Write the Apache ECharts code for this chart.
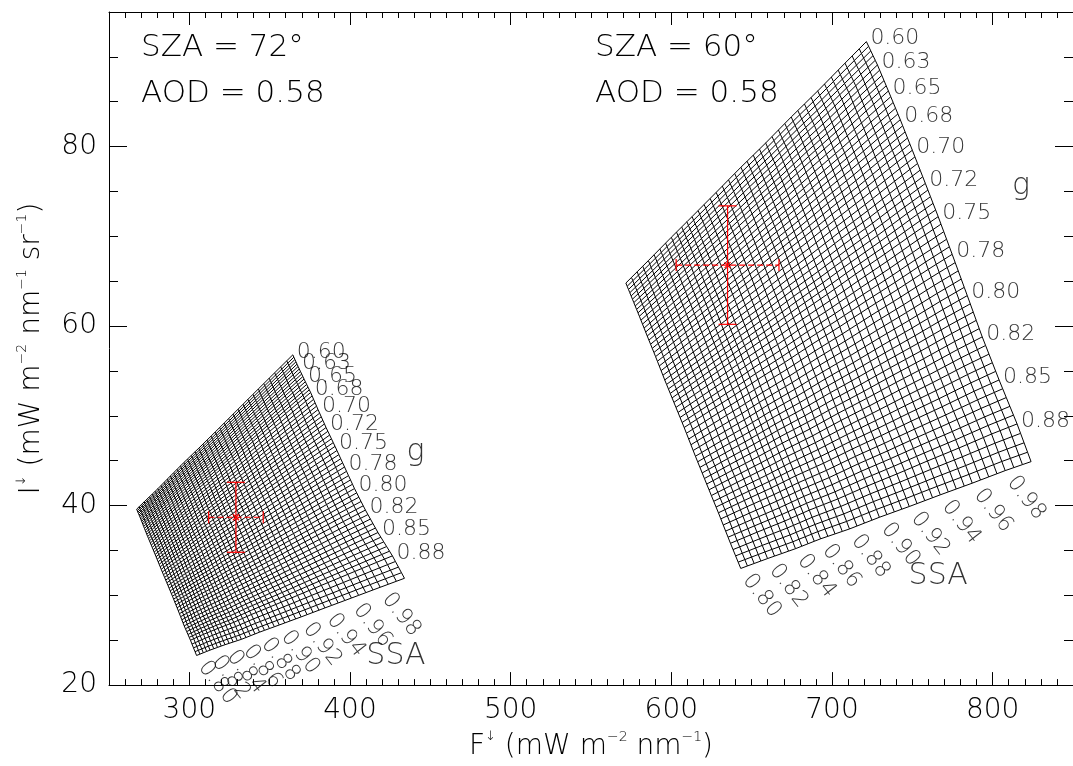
<!DOCTYPE html>
<html>
<head>
<meta charset="utf-8">
<script src="https://cdn.jsdelivr.net/npm/echarts@6/dist/echarts.min.js"></script>
<style>
  html, body { margin: 0; padding: 0; background: #fff; }
  #chart { width: 1073px; height: 766px; }
</style>
</head>
<body>
<div id="chart"></div>
<script>
// Lookup-table parameters: single-scattering albedo (SSA) and asymmetry parameter (g)
const ssaValues = [0.800,0.805,0.810,0.815,0.820,0.825,0.830,0.835,0.840,0.845,
                   0.850,0.855,0.860,0.865,0.870,0.875,0.880,0.885,0.890,0.895,
                   0.900,0.905,0.910,0.915,0.920,0.925,0.930,0.935,0.940,0.945,
                   0.950,0.955,0.960,0.965,0.970,0.975,0.980,0.985,0.990,0.995];
const gValues = [0.600,0.605,0.610,0.615,0.620,0.625,0.630,0.635,0.640,0.645,
                 0.650,0.655,0.660,0.665,0.670,0.675,0.680,0.685,0.690,0.695,
                 0.700,0.705,0.710,0.715,0.720,0.725,0.730,0.735,0.740,0.745,
                 0.750,0.755,0.760,0.765,0.770,0.775,0.780,0.785,0.790,0.795,
                 0.800,0.805,0.810,0.815,0.820,0.825,0.830,0.835,0.840,0.845,
                 0.850,0.855,0.860,0.865,0.870,0.875,0.880,0.885,0.890,0.895];

// Labelled parameter values along the table edges
const ssaLabelValues = [0.80,0.82,0.84,0.86,0.88,0.90,0.92,0.94,0.96,0.98];
const ssaLabels = ['0.80','0.82','0.84','0.86','0.88','0.90','0.92','0.94','0.96','0.98'];
const gLabelValues = [0.600,0.625,0.650,0.675,0.700,0.725,0.750,0.775,0.800,0.825,0.850,0.875];
const gLabels = ['0.60','0.63','0.65','0.68','0.70','0.72','0.75','0.78','0.80','0.82','0.85','0.88'];

// Edge nodes at which the table boundary is sampled
const ssaEdgeNodes = [0.80,0.82,0.84,0.86,0.88,0.90,0.92,0.94,0.96,0.98,0.995];
const gEdgeNodes = [0.600,0.625,0.650,0.675,0.700,0.725,0.750,0.775,0.800,0.825,0.850,0.875,0.895];

// SZA = 60 deg table boundary (F-down, I-down)
const sza60TopF    = [571.7,585.7,600.0,612.9,627.9,643.3,658.7,674.6,691.1,708.1,721.4];
const sza60TopI    = [64.8,67.3,69.9,72.2,74.9,77.7,80.4,83.3,86.2,89.3,91.7];
const sza60BottomF = [643.2,659.9,677.3,692.9,710.9,729.5,748.1,767.4,787.3,807.8,823.9];
const sza60BottomI = [33.0,34.1,35.2,36.3,37.4,38.7,39.9,41.2,42.5,43.9,44.9];
const sza60LeftF   = [571.7,575.8,580.1,585.0,590.2,595.9,601.6,608.0,615.0,622.0,629.3,636.8,643.2];
const sza60LeftI   = [64.8,63.0,61.1,58.9,56.6,54.0,51.5,48.7,45.5,42.4,39.2,35.8,33.0];
const sza60RightF  = [721.4,728.3,735.1,742.5,750.0,758.1,766.1,774.8,784.2,793.5,804.0,815.2,823.9];
const sza60RightI  = [91.7,89.1,86.2,83.0,79.6,75.9,72.2,68.0,63.4,58.8,54.0,49.1,44.9];

// SZA = 72 deg table boundary (F-down, I-down)
const sza72TopF    = [267.2,273.5,280.5,288.2,296.6,305.9,316.1,327.3,339.6,353.1,364.4];
const sza72TopI    = [39.6,40.7,41.9,43.3,44.8,46.4,48.2,50.2,52.4,54.8,56.8];
const sza72BottomF = [304.5,312.9,322.2,332.4,343.7,356.0,369.6,384.4,400.9,418.8,433.9];
const sza72BottomI = [23.3,23.9,24.5,25.1,25.9,26.7,27.6,28.6,29.7,30.9,31.9];
const sza72LeftF   = [267.2,269.1,271.1,273.5,276.3,279.3,282.5,286.0,289.5,293.1,296.8,300.7,304.5];
const sza72LeftI   = [39.6,38.8,37.9,36.8,35.6,34.3,32.9,31.4,29.9,28.3,26.6,25.0,23.3];
const sza72RightF  = [364.4,367.7,371.4,375.5,380.1,385.1,390.7,396.6,402.8,409.6,417.4,426.4,433.9];
const sza72RightI  = [56.8,55.5,54.1,52.6,50.7,48.7,46.6,44.3,41.9,39.5,37.0,34.4,31.9];

// Observations with uncertainties
const obsF    = [329, 635];
const obsFErr = [17, 32];
const obsI    = [38.7, 66.8];
const obsIErr = [3.9, 6.6];

// Text annotations
const caseTitles = [['SZA = 72°', 'AOD = 0.58'], ['SZA = 60°', 'AOD = 0.58']];
const paramNames = [
  { text: 'g',   F: 440.7, I: 46.0 },
  { text: 'SSA', F: 428.6, I: 23.2 },
  { text: 'g',   F: 817.7, I: 75.6 },
  { text: 'SSA', F: 766.1, I: 32.1 }
];

const FONT = '"DejaVu Sans", Roboto, sans-serif';
const WEIGHT = 200;

function interp(nodes, vals, t) {
  for (let k = 0; k < nodes.length - 1; k++) {
    if (t <= nodes[k + 1] + 1e-9) {
      const w = (t - nodes[k]) / (nodes[k + 1] - nodes[k]);
      return vals[k] + w * (vals[k + 1] - vals[k]);
    }
  }
  return vals[vals.length - 1];
}

// Fill the table interior from its four boundary curves (transfinite patch)
function buildTable(b) {
  const n = b.topF.length - 1;
  const A = [b.topF[0], b.topI[0]], B = [b.topF[n], b.topI[n]];
  const D = [b.bottomF[0], b.bottomI[0]], C = [b.bottomF[n], b.bottomI[n]];
  const s0 = ssaValues[0], s1 = ssaValues[ssaValues.length - 1];
  const g0 = gValues[0], g1 = gValues[gValues.length - 1];
  return ssaValues.map(s => gValues.map(g => {
    const u = (s - s0) / (s1 - s0), v = (g - g0) / (g1 - g0);
    const T = [interp(ssaEdgeNodes, b.topF, s), interp(ssaEdgeNodes, b.topI, s)];
    const Bo = [interp(ssaEdgeNodes, b.bottomF, s), interp(ssaEdgeNodes, b.bottomI, s)];
    const L = [interp(gEdgeNodes, b.leftF, g), interp(gEdgeNodes, b.leftI, g)];
    const R = [interp(gEdgeNodes, b.rightF, g), interp(gEdgeNodes, b.rightI, g)];
    return [0, 1].map(k =>
      (1 - v) * T[k] + v * Bo[k] + (1 - u) * L[k] + u * R[k]
      - ((1 - u) * (1 - v) * A[k] + u * (1 - v) * B[k] + (1 - u) * v * D[k] + u * v * C[k]));
  }));
}

function meshLines(table) {
  const out = [];
  table.forEach(row => out.push({ coords: row }));
  gValues.forEach((_, j) => out.push({ coords: table.map(row => row[j]) }));
  return out;
}

const tables = [
  { topF: sza72TopF, topI: sza72TopI, bottomF: sza72BottomF, bottomI: sza72BottomI,
    leftF: sza72LeftF, leftI: sza72LeftI, rightF: sza72RightF, rightI: sza72RightI },
  { topF: sza60TopF, topI: sza60TopI, bottomF: sza60BottomF, bottomI: sza60BottomI,
    leftF: sza60LeftF, leftI: sza60LeftI, rightF: sza60RightF, rightI: sza60RightI }
];

const textBase = { fontFamily: FONT, fontWeight: WEIGHT, color: '#000' };

const series = [];
tables.forEach(t => {
  series.push({
    type: 'lines', coordinateSystem: 'cartesian2d', polyline: true, silent: true,
    z: 2, animation: false,
    lineStyle: { color: '#000', width: 1, opacity: 1 },
    data: meshLines(buildTable(t))
  });
  // g labels along the SSA = 0.995 edge
  series.push({
    type: 'scatter', symbolSize: 0.01, silent: true, z: 3, animation: false,
    itemStyle: { color: 'rgba(0,0,0,0)' },
    data: gLabelValues.map(g => [interp(gEdgeNodes, t.rightF, g), interp(gEdgeNodes, t.rightI, g)]),
    label: Object.assign({
      show: true, formatter: p => gLabels[p.dataIndex], position: [4, -3],
      align: 'left', verticalAlign: 'middle', fontSize: 22
    }, textBase)
  });
  // SSA labels along the g = 0.895 edge
  series.push({
    type: 'scatter', symbolSize: 0.01, silent: true, z: 3, animation: false,
    itemStyle: { color: 'rgba(0,0,0,0)' },
    data: ssaLabelValues.map(s => [interp(ssaEdgeNodes, t.bottomF, s), interp(ssaEdgeNodes, t.bottomI, s)]),
    label: Object.assign({
      show: true, formatter: p => ssaLabels[p.dataIndex], position: [6, 8], rotate: -52,
      align: 'left', verticalAlign: 'middle', fontSize: 22
    }, textBase)
  });
});

// Parameter names beside each table
series.push({
  type: 'scatter', symbolSize: 0.01, silent: true, z: 3, animation: false,
  itemStyle: { color: 'rgba(0,0,0,0)' },
  data: paramNames.map(p => [p.F, p.I]),
  label: Object.assign({
    show: true, formatter: p => paramNames[p.dataIndex].text, position: 'inside',
    align: 'center', verticalAlign: 'middle', fontSize: 30
  }, textBase)
});

// Observed point with error bars
series.push({
  type: 'custom', z: 4, silent: true, animation: false,
  data: obsF.map((f, k) => [f, obsI[k], obsFErr[k], obsIErr[k]]),
  renderItem: (params, api) => {
    const f = api.value(0), i = api.value(1), df = api.value(2), di = api.value(3);
    const c = api.coord([f, i]);
    const l = api.coord([f - df, i]), r = api.coord([f + df, i]);
    const t = api.coord([f, i + di]), b = api.coord([f, i - di]);
    const solid = { stroke: '#f00', lineWidth: 1.2 };
    const dashed = { stroke: '#f00', lineWidth: 1.2, lineDash: [6, 3] };
    const cw = 9, ch = 6, m = 3;
    const seg = (x1, y1, x2, y2, style) => ({ type: 'line', shape: { x1, y1, x2, y2 }, style: style || solid });
    return {
      type: 'group',
      children: [
        seg(l[0], l[1], r[0], r[1], dashed),
        seg(t[0], t[1], b[0], b[1]),
        seg(l[0], l[1] - ch, l[0], l[1] + ch),
        seg(r[0], r[1] - ch, r[0], r[1] + ch),
        seg(t[0] - cw, t[1], t[0] + cw, t[1]),
        seg(b[0] - cw, b[1], b[0] + cw, b[1]),
        seg(c[0] - m, c[1] - m, c[0] + m, c[1] + m),
        seg(c[0] - m, c[1] + m, c[0] + m, c[1] - m)
      ]
    };
  }
});

const axisLineStyle = { lineStyle: { color: '#000', width: 1 } };
const xCommon = {
  type: 'value', min: 250, max: 850, splitLine: { show: false },
  axisLine: axisLineStyle,
  axisTick: { inside: true, length: 13, lineStyle: { color: '#000' } },
  minorTick: { show: true, splitNumber: 10, length: 6, lineStyle: { color: '#000' } }
};
const yCommon = {
  type: 'value', min: 20, max: 95, interval: 20, splitLine: { show: false },
  axisLine: axisLineStyle,
  axisTick: { inside: true, length: 18, lineStyle: { color: '#000' } },
  minorTick: { show: true, splitNumber: 4, length: 9, lineStyle: { color: '#000' } }
};

const titleRich = {
  t: Object.assign({ fontSize: 28, lineHeight: 34 }, textBase),
  a: Object.assign({ fontSize: 13, lineHeight: 34, verticalAlign: 'top' }, textBase),
  s: Object.assign({ fontSize: 14, lineHeight: 34, verticalAlign: 'top' }, textBase)
};

const tickLabel = Object.assign({ show: true, margin: 12, fontSize: 28 }, textBase);
const titleFont = WEIGHT + ' 31px ' + FONT;

const option = {
  backgroundColor: '#fff',
  animation: false,
  textStyle: { fontFamily: FONT },
  grid: { left: 109, top: 12, width: 966, height: 683, containLabel: false },
  xAxis: [
    Object.assign({}, xCommon, {
      position: 'bottom',
      axisLabel: Object.assign({ showMinLabel: false, showMaxLabel: false }, tickLabel),
      name: '{t|F}{a|↓}{t| (mW m}{s|−2}{t| nm}{s|−1}{t|)}',
      nameLocation: 'middle', nameGap: 42,
      nameTextStyle: { rich: titleRich }
    }),
    Object.assign({}, xCommon, { position: 'top', axisLabel: { show: false } })
  ],
  yAxis: [
    Object.assign({}, yCommon, {
      position: 'left',
      axisLabel: Object.assign({ showMinLabel: true, showMaxLabel: false }, tickLabel),
      name: '{t|I}{a|↓}{t| (mW m}{s|−2}{t| nm}{s|−1}{t| sr}{s|−1}{t|)}',
      nameLocation: 'middle', nameGap: 60, nameRotate: 90,
      nameTextStyle: { rich: titleRich }
    }),
    Object.assign({}, yCommon, { position: 'right', axisLabel: { show: false } })
  ],
  graphic: [
    { type: 'text', left: 141, top: 32, style: { text: caseTitles[0][0], font: titleFont, fill: '#000' } },
    { type: 'text', left: 141, top: 78, style: { text: caseTitles[0][1], font: titleFont, fill: '#000' } },
    { type: 'text', left: 595, top: 32, style: { text: caseTitles[1][0], font: titleFont, fill: '#000' } },
    { type: 'text', left: 595, top: 78, style: { text: caseTitles[1][1], font: titleFont, fill: '#000' } }
  ],
  series: series
};

const chart = echarts.init(document.getElementById('chart'), null, { renderer: 'canvas' });
chart.setOption(option);
</script>
</body>
</html>
